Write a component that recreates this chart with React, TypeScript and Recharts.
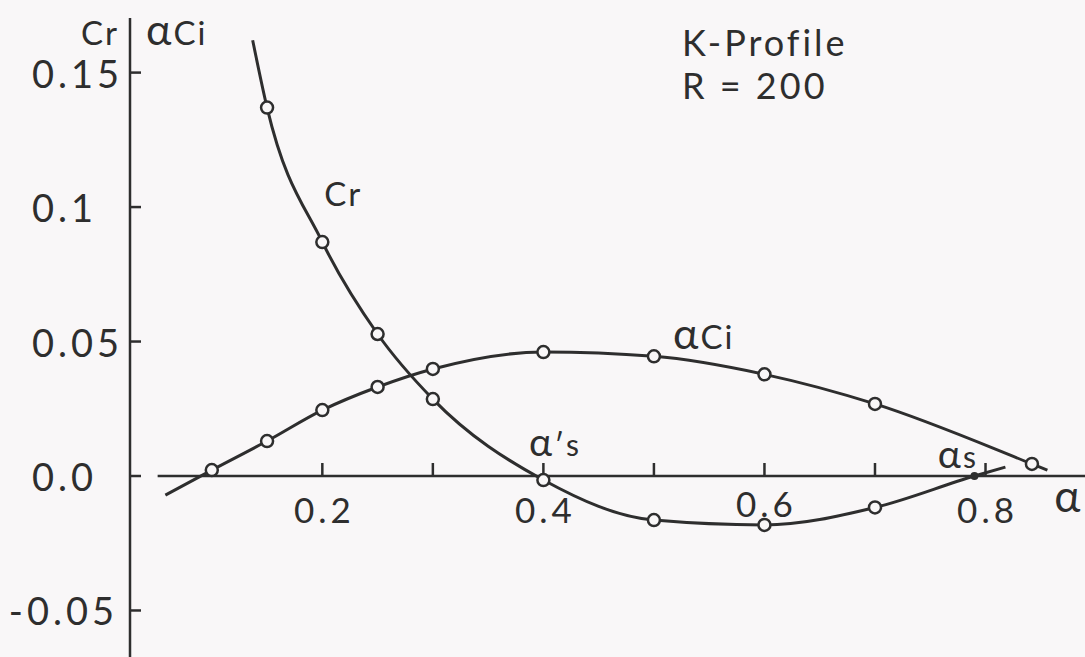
import { LineChart, Line, XAxis, YAxis, ReferenceLine, ReferenceDot } from 'recharts';

// Cr curve: alpha positions, values, marker kind ('' = curve only)
const crAlpha = [0.137, 0.15, 0.2, 0.25, 0.3, 0.4, 0.5, 0.6, 0.7, 0.79, 0.818];
const crValues = [0.162, 0.137, 0.087, 0.0528, 0.0286, -0.0015, -0.0164, -0.0182, -0.0117, 0, 0.0033];
const crMarks = ['', 'o', 'o', 'o', 'o', 'o', 'o', 'o', 'o', 'dot', ''];

// alpha * Ci curve
const ciAlpha = [0.058, 0.1, 0.15, 0.2, 0.25, 0.3, 0.4, 0.5, 0.6, 0.7, 0.842, 0.856];
const ciValues = [-0.0071, 0.0022, 0.013, 0.0245, 0.0331, 0.0398, 0.0461, 0.0445, 0.0378, 0.0268, 0.0045, 0.0022];
const ciMarks = ['', 'o', 'o', 'o', 'o', 'o', 'o', 'o', 'o', 'o', 'o', ''];

const yTicks = [-0.05, 0, 0.05, 0.1, 0.15];
const yTickLabels = ['-0.05', '0.0', '0.05', '0.1', '0.15'];

const xTicks = [0.2, 0.3, 0.4, 0.5, 0.6, 0.7, 0.8];
const xTickLabels = ['0.2', '', '0.4', '', '0.6', '', '0.8'];

// in-plot annotations, placed in data coordinates
const noteText = ['Cr', 'αCi', 'α′s', 'αs', 'α'];
const noteAlpha = [0.219, 0.545, 0.4105, 0.775, 0.875];
const noteValue = [0.1049, 0.0517, 0.0115, 0.0071, -0.0089];
const noteSize = [33, 33, 30, 30, 34];

const INK = '#2e2e2e';
const PAPER = '#f9f7f8';
const FONT = "Lato, 'Noto Sans', sans-serif";

const crData = crAlpha.map((a, i) => ({ a, v: crValues[i], mark: crMarks[i] }));
const ciData = ciAlpha.map((a, i) => ({ a, v: ciValues[i], mark: ciMarks[i] }));

// the lettering draws alpha noticeably larger than the latin letters
function withAlpha(text: string, size: number) {
  return text.split(/(α)/).filter(Boolean).map((part, i) =>
    part === 'α' ? (
      <tspan key={i} fontSize={size * 1.3}>
        α
      </tspan>
    ) : (
      <tspan key={i}>{part}</tspan>
    )
  );
}

function Marker(props: any) {
  const { cx, cy, payload, index } = props;
  if (payload.mark === 'o') {
    return <circle key={index} cx={cx} cy={cy} r={6} fill={PAPER} stroke={INK} strokeWidth={2.5} />;
  }
  if (payload.mark === 'dot') {
    return <circle key={index} cx={cx} cy={cy} r={4} fill={INK} />;
  }
  return <g key={index} />;
}

function YTick(props: any) {
  const { x, y, index } = props;
  const label = yTickLabels[index];
  const neg = label.startsWith('-');
  return (
    <g>
      <line x1={x} x2={x + 11} y1={y} y2={y} stroke={INK} strokeWidth={2.5} />
      <text
        x={neg ? x - 12 : x - 98}
        y={y}
        textAnchor={neg ? 'end' : 'start'}
        dominantBaseline="central"
        fontFamily={FONT}
        fontSize={38}
        letterSpacing={4}
        fill={INK}
      >
        {label}
      </text>
    </g>
  );
}

function XTick(props: any) {
  const { cx, cy, label } = props;
  // the 0.6 label sits a little higher, clear of the Cr curve
  const drop = label === '0.6' ? 27 : 33;
  return (
    <g>
      <line x1={cx} x2={cx} y1={cy} y2={cy - 13} stroke={INK} strokeWidth={2.5} />
      {label && (
        <text
          x={cx + 2}
          y={cy + drop}
          textAnchor="middle"
          dominantBaseline="central"
          fontFamily={FONT}
          fontSize={35}
          letterSpacing={4}
          fill={INK}
        >
          {label}
        </text>
      )}
    </g>
  );
}

function Note(props: any) {
  const { cx, cy, text, size } = props;
  return (
    <text
      x={cx}
      y={cy + size * 0.36}
      textAnchor="middle"
      fontFamily={FONT}
      fontSize={size}
      letterSpacing={2}
      fill={INK}
    >
      {withAlpha(text, size)}
    </text>
  );
}

export default function App() {
  return (
    <div
      style={{
        position: 'absolute',
        left: 0,
        top: 0,
        width: 1085,
        height: 657,
        background: PAPER,
        overflow: 'hidden',
      }}
    >
      <LineChart width={1085} height={657} margin={{ top: 18, right: 0, bottom: 0, left: 0 }}>
        <XAxis type="number" dataKey="a" domain={[0.026, 0.89]} allowDataOverflow hide />
        <YAxis
          type="number"
          domain={[-0.0673, 0.1703]}
          allowDataOverflow
          ticks={yTicks}
          width={130}
          tickSize={0}
          tickMargin={0}
          tickLine={false}
          axisLine={{ stroke: INK, strokeWidth: 2.5 }}
          tick={<YTick />}
          interval={0}
        />
        <ReferenceLine
          segment={[
            { x: 0.051, y: 0 },
            { x: 0.89, y: 0 },
          ]}
          stroke={INK}
          strokeWidth={2.5}
          ifOverflow="visible"
        />
        {xTicks.map((t, i) => (
          <ReferenceDot
            key={t}
            x={t}
            y={0}
            r={0}
            ifOverflow="visible"
            shape={(p: any) => <XTick {...p} label={xTickLabels[i]} />}
          />
        ))}
        <Line
          data={crData}
          dataKey="v"
          type="monotone"
          stroke={INK}
          strokeWidth={3}
          dot={Marker}
          activeDot={false}
          isAnimationActive={false}
        />
        <Line
          data={ciData}
          dataKey="v"
          type="monotone"
          stroke={INK}
          strokeWidth={3}
          dot={Marker}
          activeDot={false}
          isAnimationActive={false}
        />
        {noteText.map((t, i) => (
          <ReferenceDot
            key={t}
            x={noteAlpha[i]}
            y={noteValue[i]}
            r={0}
            ifOverflow="visible"
            shape={(p: any) => <Note {...p} text={t} size={noteSize[i]} />}
          />
        ))}
      </LineChart>
      <svg
        width={1085}
        height={657}
        style={{ position: 'absolute', left: 0, top: 0, pointerEvents: 'none' }}
      >
        <g fontFamily={FONT} fill={INK}>
          <text x={119} y={45} fontSize={33} letterSpacing={2} textAnchor="end">
            Cr
          </text>
          <text x={146} y={45} fontSize={33} letterSpacing={2}>
            {withAlpha('αCi', 33)}
          </text>
          <text x={682} y={56} fontSize={36} letterSpacing={3}>
            K-Profile
          </text>
          <text x={682} y={99} fontSize={36} letterSpacing={3}>
            R = 200
          </text>
        </g>
      </svg>
    </div>
  );
}
